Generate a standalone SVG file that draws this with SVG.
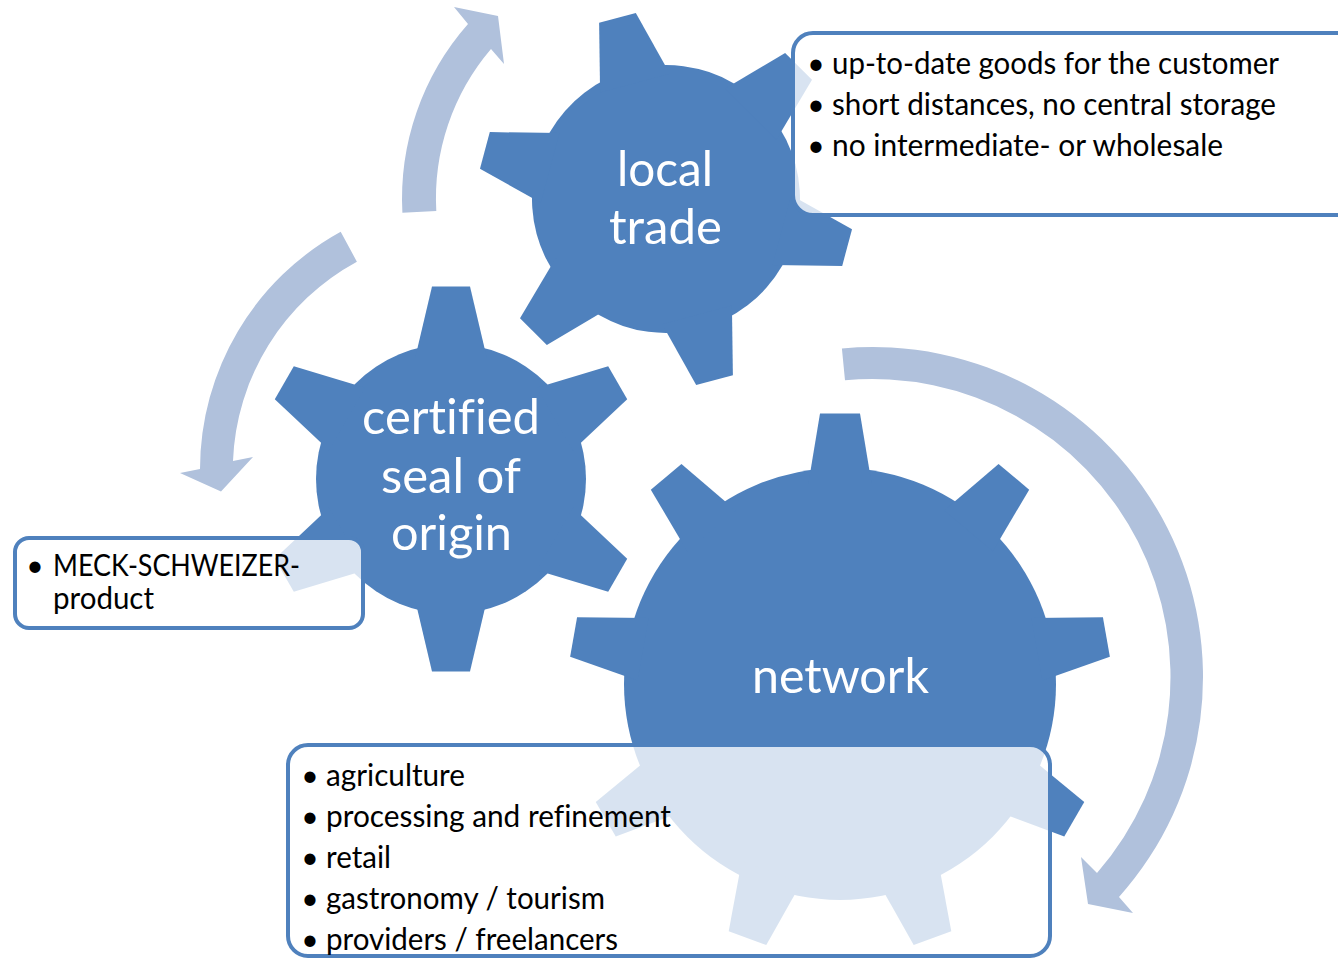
<svg xmlns="http://www.w3.org/2000/svg" width="1338" height="958" viewBox="0 0 1338 958">
<defs>
<style>
.gear{fill:#4F81BD}
.arrow{fill:#B0C1DC}
.box{fill:#FFFFFF;fill-opacity:0.78;stroke:#4F81BD;stroke-width:4}
.lbl{font-family:Lato,'Liberation Sans',sans-serif;fill:#FFFFFF;font-size:49px;text-anchor:middle;font-variant-ligatures:none;font-feature-settings:"liga" 0,"clig" 0}
.txt{font-family:Lato,'Liberation Sans',sans-serif;fill:#000000;font-size:30px;font-variant-ligatures:none;font-feature-settings:"liga" 0,"clig" 0}
.bul{font-family:Lato,'Liberation Sans',sans-serif;fill:#000000;font-size:30px;text-anchor:middle}
</style>
<polygon id="toothA" points="-19,-187.5 19,-187.5 36.1,-120 -36.1,-120"/>
<polygon id="toothB" points="-19,-192.5 19,-192.5 36.1,-120 -36.1,-120"/>
<polygon id="toothC" points="-20,-270.5 20,-270.5 31.7,-200 -31.7,-200"/>
</defs>
<rect width="1338" height="958" fill="#FFFFFF"/>
<g id="connectors" class="arrow">
<path d="M 402.4,212.8 A 264 264 0 0 1 468,24 L 454,7 L 498,16 L 504,64 L 491,49 A 230 230 0 0 0 436.3,211 Z"/>
<path d="M 340.7,231.8 A 271 271 0 0 0 200,469 L 180,473 L 221,491.5 L 253,457 L 233,461 A 237 237 0 0 1 356.9,261.7 Z"/>
<path d="M 841.9,348.5 A 330 330 0 0 1 1119,897 L 1133,913 L 1088,904 L 1081,857 L 1097,873 A 298 298 0 0 0 845,380.3 Z"/>
</g>
<g id="gear-local-trade" class="gear">
<g transform="translate(666,199) rotate(-15)">
<circle r="134"/>
<use href="#toothA"/>
<use href="#toothA" transform="rotate(60)"/>
<use href="#toothA" transform="rotate(120)"/>
<use href="#toothA" transform="rotate(180)"/>
<use href="#toothA" transform="rotate(240)"/>
<use href="#toothA" transform="rotate(300)"/>
</g>
<text class="lbl" x="665" y="186" textLength="96" lengthAdjust="spacingAndGlyphs">local</text>
<text class="lbl" x="665.5" y="244" textLength="113" lengthAdjust="spacingAndGlyphs">trade</text>
</g>
<g id="gear-certified" class="gear">
<g transform="translate(451,479)">
<circle r="135"/>
<use href="#toothB"/>
<use href="#toothB" transform="rotate(60)"/>
<use href="#toothB" transform="rotate(120)"/>
<use href="#toothB" transform="rotate(180)"/>
<use href="#toothB" transform="rotate(240)"/>
<use href="#toothB" transform="rotate(300)"/>
</g>
<text class="lbl" x="451" y="434" textLength="178" lengthAdjust="spacingAndGlyphs">certified</text>
<text class="lbl" x="451" y="493" textLength="140" lengthAdjust="spacingAndGlyphs">seal of</text>
<text class="lbl" x="451.5" y="550" textLength="121" lengthAdjust="spacingAndGlyphs">origin</text>
</g>
<g id="gear-network" class="gear">
<g transform="translate(840,684)">
<circle r="216"/>
<use href="#toothC"/>
<use href="#toothC" transform="rotate(40)"/>
<use href="#toothC" transform="rotate(80)"/>
<use href="#toothC" transform="rotate(120)"/>
<use href="#toothC" transform="rotate(160)"/>
<use href="#toothC" transform="rotate(200)"/>
<use href="#toothC" transform="rotate(240)"/>
<use href="#toothC" transform="rotate(280)"/>
<use href="#toothC" transform="rotate(320)"/>
</g>
<text class="lbl" x="840.5" y="693" textLength="177" lengthAdjust="spacingAndGlyphs">network</text>
</g>
<g id="box-local-trade">
<rect class="box" x="793" y="33" width="570" height="182" rx="20"/>
<text class="bul" x="816" y="74">•</text>
<text class="txt" x="832" y="74" textLength="447" lengthAdjust="spacingAndGlyphs">up-to-date goods for the customer</text>
<text class="bul" x="816" y="115">•</text>
<text class="txt" x="832" y="115" textLength="444" lengthAdjust="spacingAndGlyphs">short distances, no central storage</text>
<text class="bul" x="816" y="156">•</text>
<text class="txt" x="832" y="156" textLength="391" lengthAdjust="spacingAndGlyphs">no intermediate- or wholesale</text>
</g>
<g id="box-certified">
<rect class="box" x="15" y="538" width="348" height="90" rx="14"/>
<text class="bul" x="35" y="576">•</text>
<text class="txt" x="53" y="576" textLength="247" lengthAdjust="spacingAndGlyphs">MECK-SCHWEIZER-</text>
<text class="txt" x="53" y="609" textLength="101" lengthAdjust="spacingAndGlyphs">product</text>
</g>
<g id="box-network">
<rect class="box" x="288" y="745" width="762" height="211" rx="20"/>
<text class="bul" x="310" y="786">•</text>
<text class="txt" x="326" y="786" textLength="139" lengthAdjust="spacingAndGlyphs">agriculture</text>
<text class="bul" x="310" y="827">•</text>
<text class="txt" x="326" y="827" textLength="345" lengthAdjust="spacingAndGlyphs">processing and refinement</text>
<text class="bul" x="310" y="868">•</text>
<text class="txt" x="326" y="868" textLength="65" lengthAdjust="spacingAndGlyphs">retail</text>
<text class="bul" x="310" y="909">•</text>
<text class="txt" x="326" y="909" textLength="279" lengthAdjust="spacingAndGlyphs">gastronomy / tourism</text>
<text class="bul" x="310" y="950">•</text>
<text class="txt" x="326" y="950" textLength="292" lengthAdjust="spacingAndGlyphs">providers / freelancers</text>
</g>
</svg>
